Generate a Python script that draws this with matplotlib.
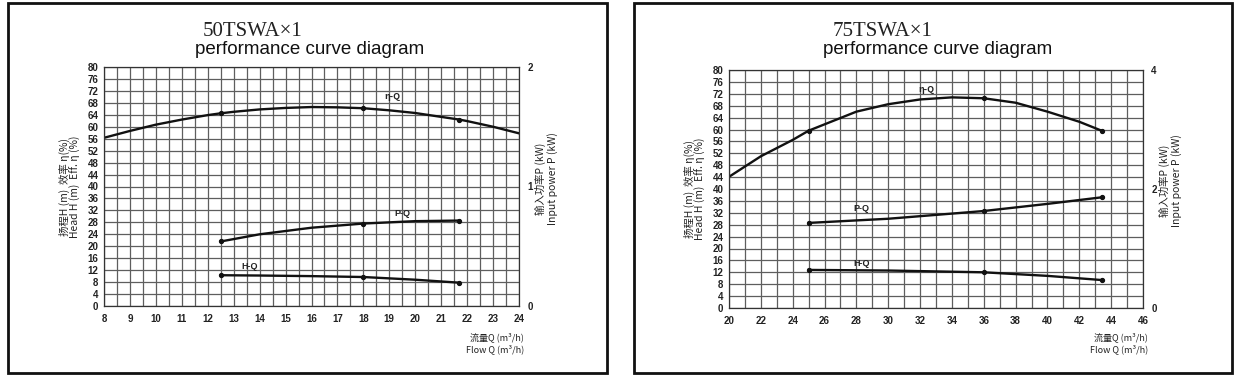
# performance curves for two pumps, side by side
import numpy as np
import matplotlib.pyplot as plt
from matplotlib.patches import Rectangle

plt.rcParams['font.family'] = ['Liberation Sans', 'DejaVu Sans']

# ---- 50TSWA x1 ----
q_eff_50 = [8, 9, 10, 11, 12, 12.5, 13, 14, 15, 16, 17, 18, 19, 20, 21, 21.7, 22, 23, 24]
eff_50 = [56.3, 58.6, 60.7, 62.4, 63.9, 64.5, 65.0, 65.8, 66.3, 66.6, 66.5, 66.2, 65.5, 64.6, 63.3, 62.4, 61.9, 60.0, 57.8]
q_50 = [12.5, 14, 16, 18, 20, 21.7]
power_50 = [0.54, 0.60, 0.655, 0.69, 0.71, 0.715]   # kW
head_50 = [10.3, 10.2, 10.0, 9.7, 8.8, 7.8]         # m
mark_50 = [12.5, 18, 21.7]

# ---- 75TSWA x1 ----
q_eff_75 = [20, 22, 24, 25, 28, 30, 32, 34, 36, 38, 40, 42, 43.4]
eff_75 = [44.1, 51.0, 56.5, 59.6, 66.0, 68.5, 70.1, 70.8, 70.5, 69.0, 66.0, 62.6, 59.6]
q_75 = [25, 30, 36, 40, 43.4]
power_75 = [1.43, 1.50, 1.63, 1.75, 1.86]   # kW
head_75 = [12.8, 12.6, 12.0, 10.8, 9.4]     # m
mark_75 = [25, 36, 43.4]

W, H = 1249, 376
fig = plt.figure(figsize=(W / 100, H / 100), dpi=100)

cjk = ['Noto Sans CJK SC', 'DejaVu Sans']
tick_kw = dict(fontsize=7, fontweight='bold', color='#222')


def px(x, y):
    # pixel position -> figure fraction
    return x / W, 1 - y / H


def panel(box, ax_px, xlim, xmaj, xmin_step, pmax, ptick,
          q_eff, eff, q, power, head, marks, name, title_px, lbl):
    # outer frame
    x0, y0, x1, y1 = box
    fig.patches.append(Rectangle(px(x0, y1), (x1 - x0) / W, (y1 - y0) / H,
                                 transform=fig.transFigure, fill=False,
                                 lw=2.0, ec='#111'))
    l, t, r, b = ax_px
    ax = fig.add_axes([l / W, 1 - b / H, (r - l) / W, (b - t) / H])
    ax.set_xlim(*xlim)
    ax.set_ylim(0, 80)
    ax.set_xticks(xmaj)
    ax.set_xticks(np.arange(xlim[0], xlim[1] + 1e-9, xmin_step), minor=True)
    ax.set_yticks(np.arange(0, 81, 4))
    ax.grid(True, which='both', color='#5e5e5e', lw=0.9)
    ax.tick_params(which='both', length=0)
    ax.tick_params(axis='x', pad=6)
    ax.tick_params(axis='y', pad=4)
    for s in ax.spines.values():
        s.set_color('#333')
        s.set_linewidth(0.9)
    for lab in ax.get_xticklabels() + ax.get_yticklabels():
        lab.set(**tick_kw)

    # efficiency curve
    idx = [q_eff.index(m) for m in marks]
    ax.plot(q_eff, eff, color='#111', lw=1.7, marker='o', ms=2.8, markevery=idx)
    # head curve
    idx = [q.index(m) for m in marks]
    ax.plot(q, head, color='#111', lw=1.7, marker='o', ms=2.8, markevery=idx)

    # power on the right axis
    ax2 = ax.twinx()
    ax2.set_ylim(0, pmax)
    ax2.set_yticks(ptick)
    ax2.tick_params(length=0, pad=6)
    for s in ax2.spines.values():
        s.set_visible(False)
    for lab in ax2.get_yticklabels():
        lab.set(**tick_kw)
    ax2.plot(q, power, color='#111', lw=1.7, marker='o', ms=2.8, markevery=idx)

    # curve labels
    for txt, (lx, ly) in zip(['η-Q', 'P-Q', 'H-Q'], lbl):
        ax.text(lx, ly, txt, fontsize=6.5, fontweight='bold', color='#222',
                ha='center', va='center', family=cjk if txt == 'η-Q' else None)

    # titles
    tx, ty = title_px
    fig.text(*px(tx, 36), name, family='Liberation Serif', fontsize=15,
             color='#222', va='baseline')
    fig.text(*px(ty, 54), 'performance curve diagram', fontsize=13.5,
             color='#111', va='baseline')

    # axis labels
    mid = (t + b) / 2
    fig.text(*px(l - 40, mid), '扬程H (m)  效率 η(%)', rotation=90, fontsize=7.5,
             family=cjk, ha='center', va='center', color='#222')
    fig.text(*px(l - 29, mid), 'Head H (m)  Eff. η (%)', rotation=90, fontsize=7.5,
             family=cjk, ha='center', va='center', color='#222')
    fig.text(*px(r + 21, mid - 8), '输入功率P (kW)', rotation=90, fontsize=7.5,
             family=cjk, ha='center', va='center', color='#222')
    fig.text(*px(r + 34, mid - 8), 'Input power P (kW)', rotation=90, fontsize=7.5,
             family=cjk, ha='center', va='center', color='#222')
    fig.text(*px(r + 5, 337), '流量Q (m³/h)', fontsize=6.5, family=cjk,
             ha='right', va='center', color='#222')
    fig.text(*px(r + 5, 349), 'Flow Q (m³/h)', fontsize=6.5, family=cjk,
             ha='right', va='center', color='#222')
    return ax


panel((8, 3, 607, 373), (104, 67, 519, 306), (8, 24), np.arange(8, 25, 1), 0.5,
      2, [0, 1, 2], q_eff_50, eff_50, q_50, power_50, head_50, mark_50,
      '50TSWA×1', (203, 195),
      [(19.1, 70.1), (19.5, 30.8), (13.6, 13.1)])

panel((634, 3, 1232, 373), (729, 70, 1143, 308), (20, 46), np.arange(20, 47, 2), 1,
      4, [0, 2, 4], q_eff_75, eff_75, q_75, power_75, head_75, mark_75,
      '75TSWA×1', (833, 823),
      [(32.4, 73.5), (28.3, 33.3), (28.3, 14.8)])

plt.savefig('out.png', dpi=100)
